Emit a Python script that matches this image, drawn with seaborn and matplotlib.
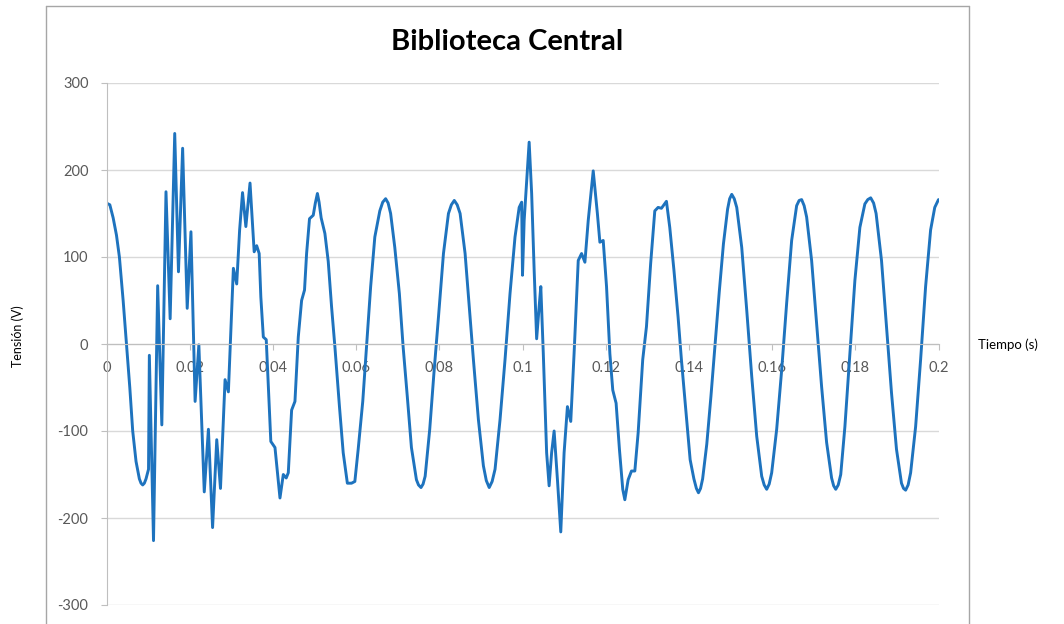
import numpy as np
import pandas as pd
import seaborn as sns
import matplotlib.pyplot as plt
from matplotlib.lines import Line2D

# values (time in s, voltage in V)
tiempo = [
    0.0000, 0.0008, 0.0016, 0.0024, 0.0031, 0.0040, 0.0048, 0.0056, 0.0063, 0.0071,
    0.0079, 0.0087, 0.0095, 0.0101, 0.0103, 0.0113, 0.0123, 0.0133, 0.0143, 0.0153,
    0.0164, 0.0173, 0.0183, 0.0194, 0.0203, 0.0213, 0.0222, 0.0235, 0.0245, 0.0255,
    0.0265, 0.0274, 0.0285, 0.0293, 0.0305, 0.0313, 0.0320, 0.0327, 0.0335, 0.0345,
    0.0355, 0.0361, 0.0367, 0.0371, 0.0377, 0.0384, 0.0389, 0.0395, 0.0405, 0.0411,
    0.0417, 0.0425, 0.0432, 0.0437, 0.0445, 0.0453, 0.0461, 0.0469, 0.0476, 0.0481,
    0.0488, 0.0497, 0.0507, 0.0516, 0.0525, 0.0533, 0.0541, 0.0549, 0.0560, 0.0569,
    0.0579, 0.0589, 0.0597, 0.0605, 0.0616, 0.0625, 0.0635, 0.0645, 0.0657, 0.0671,
    0.0683, 0.0693, 0.0704, 0.0713, 0.0723, 0.0733, 0.0745, 0.0756, 0.0766, 0.0777,
    0.0787, 0.0798, 0.0810, 0.0822, 0.0836, 0.0850, 0.0862, 0.0872, 0.0882, 0.0894,
    0.0906, 0.0920, 0.0934, 0.0946, 0.0958, 0.0970, 0.0982, 0.0992, 0.0998, 0.1000,
    0.1004, 0.1010, 0.1016, 0.1022, 0.1028, 0.1034, 0.1040, 0.1044, 0.1050, 0.1058,
    0.1064, 0.1070, 0.1076, 0.1084, 0.1092, 0.1100, 0.1108, 0.1116, 0.1124, 0.1134,
    0.1142, 0.1150, 0.1158, 0.1170, 0.1180, 0.1186, 0.1194, 0.1202, 0.1210, 0.1217,
    0.1225, 0.1233, 0.1241, 0.1246, 0.1254, 0.1262, 0.1270, 0.1278, 0.1289, 0.1298,
    0.1308, 0.1318, 0.1326, 0.1334, 0.1346, 0.1354, 0.1364, 0.1374, 0.1382, 0.1393,
    0.1403, 0.1412, 0.1423, 0.1433, 0.1443, 0.1453, 0.1463, 0.1473, 0.1483, 0.1493,
    0.1503, 0.1515, 0.1527, 0.1539, 0.1551, 0.1563, 0.1575, 0.1587, 0.1599, 0.1611,
    0.1623, 0.1635, 0.1647, 0.1659, 0.1671, 0.1683, 0.1695, 0.1707, 0.1719, 0.1731,
    0.1743, 0.1753, 0.1765, 0.1775, 0.1787, 0.1799, 0.1811, 0.1823, 0.1837, 0.1850,
    0.1863, 0.1875, 0.1887, 0.1899, 0.1911, 0.1921, 0.1933, 0.1945, 0.1957, 0.1969,
    0.1981, 0.1991, 0.2000,
]
tension = [
    162, 160, 145, 125, 100, 50, 0, -50, -100, -135,
    -155, -162, -155, -144, -13, -226, 67, -93, 175, 29,
    242, 83, 225, 41, 129, -66, -1, -170, -98, -211,
    -110, -166, -41, -55, 87, 69, 131, 174, 135, 185,
    106, 113, 104, 54, 8, 5, -49, -112, -119, -148,
    -177, -150, -154, -148, -76, -66, 8, 50, 62, 104,
    144, 148, 173, 145, 127, 95, 43, -3, -72, -125,
    -160, -160, -158, -121, -66, -3, 66, 123, 153, 167,
    150, 111, 58, -3, -60, -119, -156, -165, -152, -98,
    -34, 31, 104, 150, 165, 150, 104, 43, -18, -87,
    -140, -165, -144, -87, -18, 58, 123, 157, 163, 79,
    142, 188, 232, 173, 85, 6, 43, 66, -11, -125,
    -163, -125, -100, -156, -216, -125, -72, -89, -11, 96,
    104, 94, 142, 199, 150, 117, 119, 66, -11, -53,
    -68, -121, -167, -179, -156, -146, -146, -102, -18, 20,
    92, 153, 157, 156, 164, 134, 85, 31, -18, -79,
    -133, -155, -171, -155, -115, -60, 0, 60, 115, 155,
    172, 157, 111, 39, -37, -106, -152, -167, -148, -98,
    -30, 47, 119, 159, 166, 146, 96, 24, -49, -113,
    -154, -167, -150, -95, -11, 73, 134, 161, 168, 150,
    96, 20, -56, -121, -160, -168, -148, -95, -18, 66,
    131, 157, 166,
]
# extra readings around the rounded crests and troughs
tiempo_crestas = [
    0.0083, 0.0091, 0.0502, 0.0511, 0.0664, 0.0677, 0.0750, 0.0761, 0.0829, 0.0843,
    0.0913, 0.0927, 0.1418, 0.1428, 0.1498, 0.1509, 0.1581, 0.1593, 0.1665, 0.1677,
    0.1748, 0.1759, 0.1830, 0.1844, 0.1916, 0.1927,
]
tension_crestas = [
    -160, -160, 162, 163, 163, 162, -162, -161, 160, 160,
    -157, -158, -166, -166, 167, 167, -162, -161, 165, 159,
    -163, -162, 166, 162, -166, -162,
]
x_ticks = [0, 0.02, 0.04, 0.06, 0.08, 0.1, 0.12, 0.14, 0.16, 0.18, 0.2]
x_labels = ['0', '0.02', '0.04', '0.06', '0.08', '0.1', '0.12', '0.14', '0.16', '0.18', '0.2']
y_ticks = [-300, -200, -100, 0, 100, 200, 300]

df = pd.DataFrame({'Tiempo': tiempo + tiempo_crestas,
                   'Tension': tension + tension_crestas})
df = df.sort_values('Tiempo')

sns.set_style('white')
plt.rcParams['font.family'] = ['Lato', 'DejaVu Sans']
plt.rcParams['axes.unicode_minus'] = False

fig = plt.figure(figsize=(10.64, 6.24), dpi=100)
ax = fig.add_axes([106.5 / 1064, 1 - 605 / 624, 832 / 1064, 522 / 624])

sns.lineplot(data=df, x='Tiempo', y='Tension', ax=ax, color='#1E73BE',
             linewidth=2.1, sort=False, estimator=None)
ax.lines[0].set_solid_joinstyle('round')

ax.set_xlim(0, 0.2)
ax.set_ylim(-300, 300)
ax.set_yticks(y_ticks)
ax.set_xticks(x_ticks)
ax.set_xticklabels(x_labels)
ax.yaxis.grid(True, color='#D9D9D9', linewidth=1)
ax.xaxis.grid(False)
ax.set_axisbelow(True)
ax.set_xlabel('')
ax.set_ylabel('')

for s in ['top', 'right']:
    ax.spines[s].set_visible(False)
ax.spines['bottom'].set_position(('data', 0))
ax.spines['bottom'].set_color('#BFBFBF')
ax.spines['left'].set_color('#BFBFBF')

ax.tick_params(axis='x', direction='out', length=4, color='#BFBFBF',
               labelsize=10.5, labelcolor='#595959', pad=8)
ax.tick_params(axis='y', direction='out', length=4, color='#BFBFBF',
               labelsize=10.5, labelcolor='#595959', pad=9)
ax.tick_params(left=True, bottom=True)

fig.text(507 / 1064, 1 - 42 / 624, 'Biblioteca Central', ha='center', va='center',
         fontsize=21, fontweight='bold', color='black')
fig.text(18 / 1064, 1 - 336 / 624, 'Tensión (V)', rotation=90, ha='center',
         va='center', fontsize=9, color='black')
fig.text(978 / 1064, 1 - 345 / 624, 'Tiempo (s)', ha='left', va='center',
         fontsize=9.5, color='black')

# chart border
bc = '#A6A6A6'
fig.add_artist(Line2D([46 / 1064, 969 / 1064], [1 - 6 / 624, 1 - 6 / 624],
                      transform=fig.transFigure, color=bc, linewidth=1))
fig.add_artist(Line2D([46 / 1064, 46 / 1064], [0, 1 - 6 / 624],
                      transform=fig.transFigure, color=bc, linewidth=1))
fig.add_artist(Line2D([969 / 1064, 969 / 1064], [0, 1 - 6 / 624],
                      transform=fig.transFigure, color=bc, linewidth=1))

fig.savefig('out.png', dpi=100)
